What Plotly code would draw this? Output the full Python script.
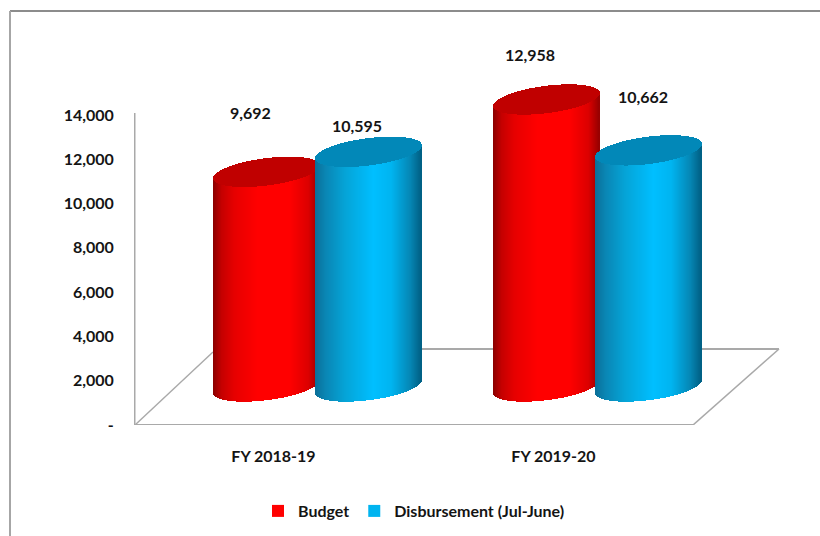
import numpy as np
import plotly.graph_objects as go

# ---- data ----
categories = ["FY 2018-19", "FY 2019-20"]
series_names = ["Budget", "Disbursement (Jul-June)"]
budget = [9692, 12958]
disbursement = [10595, 10662]
y_ticks = [0, 2000, 4000, 6000, 8000, 10000, 12000, 14000]
y_tick_labels = ["-", "2,000", "4,000", "6,000", "8,000", "10,000", "12,000", "14,000"]

# ---- look of the faux-3D chart ----
FONT = "Lato"
TXT = "#141414"
GRID = "#a9a9a9"
PX_PER_UNIT_Y = 0.02215      # pixels per value unit
PX_PER_GROUP = 280.0         # pixels between the two categories
L, R, T, B = 134, 40, 40, 111
W, H = 820, 536

depth_value = 1738           # the bars stand this far up the projected floor
half_w_px = 53.0
offset_px = 51.0
centre_fix_px = 0.8
ell_b_px = 13.7
ell_k_px = 6.5

red_stops = [(0, "#8a0000"), (.08, "#c40000"), (.2, "#e60000"), (.42, "#ff0000"), (.72, "#ff0000"), (.9, "#dc0000"), (1, "#960000")]
blue_stops = [(0, "#0a6f98"), (.1, "#0a86b4"), (.28, "#05a3d6"), (.55, "#00bfff"), (.72, "#00b4f0"), (.9, "#0586b4"), (1, "#005f84")]
red_top = "#c00000"
blue_top = "#0288b8"


def hex2rgb(h):
    return np.array([int(h[i:i + 2], 16) for i in (1, 3, 5)], float)


def grad(stops, f):
    xs = [s[0] for s in stops]
    cols = np.array([hex2rgb(s[1]) for s in stops])
    c = [np.interp(f, xs, cols[:, i]) for i in range(3)]
    return "rgb(%d,%d,%d)" % tuple(round(v) for v in c)


def px2x(px):
    return (px - 316.5) / PX_PER_GROUP


def u_y(px):
    return px / PX_PER_UNIT_Y


x_range = [px2x(L), px2x(W - R)]
y_range = [0, u_y(H - T - B)]

fig = go.Figure()


def cylinder(group, side, value, stops, top_col):
    centre_px = 316.5 + centre_fix_px + group * PX_PER_GROUP + side * offset_px
    n = int(2 * half_w_px)
    px = centre_px - half_w_px + (np.arange(n) + 0.5) * 2 * half_w_px / n
    u = (px - centre_px) / half_w_px
    s = np.sqrt(np.clip(1 - u ** 2, 0, 1))
    front = u_y(ell_k_px * u - ell_b_px * s)
    back = u_y(ell_k_px * u + ell_b_px * s)
    xs = px2x(px)
    colors = [grad(stops, (v + 1) / 2) for v in u]
    bottom = depth_value + front
    fig.add_trace(go.Bar(x=xs, y=np.full(n, value), base=bottom, width=1.6 / PX_PER_GROUP,
                         marker=dict(color=colors, line=dict(width=0)),
                         showlegend=False, hoverinfo="skip"))
    fig.add_trace(go.Bar(x=xs, y=back - front, base=depth_value + value + front,
                         width=1.6 / PX_PER_GROUP,
                         marker=dict(color=top_col, line=dict(width=0)),
                         showlegend=False, hoverinfo="skip"))


for g in range(len(categories)):
    cylinder(g, -1, budget[g], red_stops, red_top)
    cylinder(g, +1, disbursement[g], blue_stops, blue_top)

# legend entries
fig.add_trace(go.Scatter(x=[None], y=[None], mode="markers", name=series_names[0],
                         marker=dict(symbol="square", size=12, color="#ff0000")))
fig.add_trace(go.Scatter(x=[None], y=[None], mode="markers", name=series_names[1],
                         marker=dict(symbol="square", size=12, color="#00b4f0")))

# projected floor and wall, behind the cylinders
floor_y = u_y(76)
line_shapes = [
    (px2x(135), 0, px2x(693), 0, 2.2),
    (px2x(135), 0, px2x(213), u_y(73), 1.4),
    (px2x(213), floor_y, px2x(779), floor_y, 2.2),
    (px2x(693), 0, px2x(779), floor_y, 1.6),
    (px2x(134.5), 0, px2x(134.5), u_y(312), 2.0),
]
shapes = [dict(type="line", xref="x", yref="y", x0=a, y0=b, x1=c, y1=d, layer="below",
               line=dict(color=GRID, width=w)) for a, b, c, d, w in line_shapes]
# outer frame, open to the right and the bottom
shapes += [
    dict(type="line", xref="paper", yref="paper", x0=(10 - L) / (W - L - R), x1=(W - L) / (W - L - R),
         y0=(H - B - 11) / (H - T - B), y1=(H - B - 11) / (H - T - B), line=dict(color="#8c8c8c", width=2)),
    dict(type="line", xref="paper", yref="paper", x0=(10 - L) / (W - L - R), x1=(10 - L) / (W - L - R),
         y0=(H - B - 11) / (H - T - B), y1=(H - B - H) / (H - T - B), line=dict(color="#a6a6a6", width=2)),
]

# data labels, hand-placed as in the reference
label_shift = {(0, -1): (-15, 59), (0, 1): (-11, 26), (1, -1): (-16, 45), (1, 1): (-5, 54)}
annotations = []
for g in range(len(categories)):
    for side, vals in ((-1, budget), (1, disbursement)):
        xs, ys = label_shift[(g, side)]
        annotations.append(dict(
            x=g + side * offset_px / PX_PER_GROUP, y=depth_value + vals[g],
            xref="x", yref="y", text=f"{vals[g]:,}", showarrow=False,
            xshift=xs, yshift=ys, xanchor="center", yanchor="middle",
            font=dict(family=FONT, size=16, color=TXT, weight=700)))

fig.update_layout(
    width=W, height=H, margin=dict(l=L, r=R, t=T, b=B, pad=0), autosize=False,
    paper_bgcolor="white", plot_bgcolor="white", barmode="overlay", bargap=0,
    shapes=shapes, annotations=annotations,
    font=dict(family=FONT, size=16, color=TXT, weight=700),
    legend=dict(orientation="h", x=258 / W, xref="container", xanchor="left",
                y=25 / H, yref="container", yanchor="middle",
                font=dict(family=FONT, size=16, color=TXT, weight=700),
                bgcolor="rgba(0,0,0,0)", itemwidth=30),
    xaxis=dict(range=x_range, showgrid=False, zeroline=False, showline=False,
               tickmode="array", tickvals=[g - 43 / PX_PER_GROUP for g in range(len(categories))],
               ticktext=categories, ticks="outside", ticklen=17, tickcolor="rgba(0,0,0,0)",
               fixedrange=True),
    yaxis=dict(range=y_range, showgrid=False, zeroline=False, showline=False,
               tickmode="array", tickvals=y_ticks, ticktext=y_tick_labels,
               ticks="outside", ticklen=16, tickcolor="rgba(0,0,0,0)", fixedrange=True),
)

fig.write_html("out.html", post_script="document.body.style.margin='0';",
               config={"displayModeBar": False})
